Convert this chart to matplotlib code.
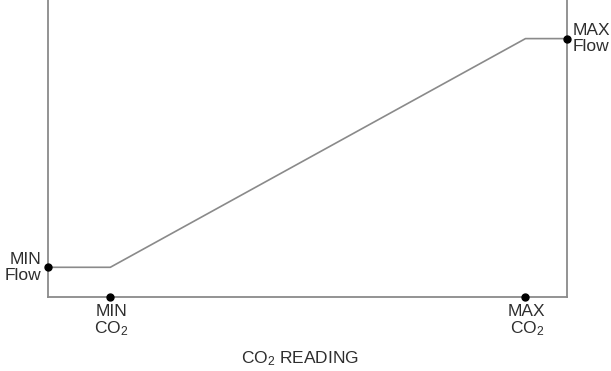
import matplotlib
matplotlib.use("Agg")
import matplotlib.pyplot as plt

plt.rcParams['font.family'] = ['Liberation Sans', 'DejaVu Sans']
plt.rcParams['mathtext.fontset'] = 'custom'
plt.rcParams['mathtext.rm'] = 'Liberation Sans'
plt.rcParams['mathtext.it'] = 'Liberation Sans'

# Data (axis units 0-100)
co2_points = [0, 12, 92, 100]
flow_points = [10, 10, 87, 87]
min_co2, max_co2 = 12, 92
min_flow, max_flow = 10, 87
x_labels = ["MIN\nCO$_2$", "MAX\nCO$_2$"]
y_labels = ["MIN\nFlow", "MAX\nFlow"]
x_title = "CO$_2$ READING"

fig = plt.figure(figsize=(6.11, 3.71), dpi=100)
ax = fig.add_axes([48/611, (371-297)/371, (567-48)/611, 297/371])
ax.set_xlim(0, 100)
ax.set_ylim(0, 100)

gray = '#8a8a8a'
ax.plot(co2_points, flow_points, color=gray, lw=1.2, solid_capstyle='butt', clip_on=False)
for s in ['left', 'bottom', 'right']:
    ax.spines[s].set_color(gray)
    ax.spines[s].set_linewidth(1.3)
ax.spines['top'].set_visible(False)
ax.set_xticks([])
ax.set_yticks([])

dot = dict(marker='o', color='black', ms=5, clip_on=False, zorder=5, ls='none')
ax.plot([min_co2, max_co2], [0, 0], **dot)
ax.plot([0, 100], [min_flow, max_flow], **dot)

tc = '#2e2e2e'
fs = 12.5
ax.annotate(y_labels[0], (0, min_flow), xytext=(-4.5, 0), textcoords='offset points',
            ha='right', va='center', fontsize=fs, color=tc, linespacing=1.12)
ax.annotate(y_labels[1], (100, max_flow), xytext=(4, 0), textcoords='offset points',
            ha='left', va='center', fontsize=fs, color=tc, linespacing=1.12)
for x, lab in zip([min_co2, max_co2], x_labels):
    ax.annotate(lab, (x, 0), xytext=(1, -5), textcoords='offset points',
                ha='center', va='top', fontsize=fs, color=tc, linespacing=1.05)
ax.annotate(x_title, (48.6, 0), xytext=(0, -38), textcoords='offset points',
            ha='center', va='top', fontsize=fs, color=tc)

fig.savefig("out.png", dpi=100)
